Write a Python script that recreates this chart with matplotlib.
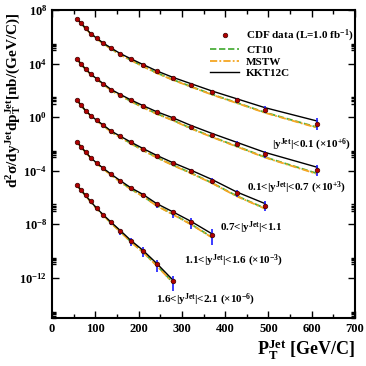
import numpy as np
import matplotlib
matplotlib.use("Agg")
import matplotlib.pyplot as plt
from matplotlib.ticker import FixedLocator, MultipleLocator, NullFormatter

plt.rcParams['font.family'] = ['Liberation Serif', 'DejaVu Serif']
plt.rcParams['font.weight'] = 'bold'
plt.rcParams['mathtext.fontset'] = 'custom'
plt.rcParams['mathtext.rm'] = 'Liberation Serif:bold'
plt.rcParams['mathtext.it'] = 'Liberation Serif:bold'
plt.rcParams['mathtext.bf'] = 'Liberation Serif:bold'
plt.rcParams['mathtext.default'] = 'rm'

# bin centres (GeV/c)
pt = [58, 67, 77.5, 89.5, 103, 118.5, 136.5, 157.5, 182, 209.5, 241.5,
      278.5, 321, 370, 426.5, 492, 613]

# log10 of scaled cross sections
logy_y1 = [7.33, 7.01, 6.64, 6.24, 5.90, 5.52, 5.15, 4.73, 4.33, 3.90, 3.41,
           2.92, 2.42, 1.85, 1.26, 0.56, -0.50]
logy_y2 = [4.34, 3.96, 3.59, 3.22, 2.87, 2.49, 2.05, 1.68, 1.26, 0.83, 0.36,
           -0.10, -0.70, -1.32, -1.99, -2.78, -3.95]
logy_y3 = [1.26, 0.89, 0.49, 0.12, -0.23, -0.60, -1.05, -1.44, -1.89, -2.37,
           -2.90, -3.45, -4.04, -4.76, -5.70, -6.60]
logy_y4 = [-1.87, -2.21, -2.61, -3.03, -3.42, -3.83, -4.27, -4.76, -5.30,
           -5.80, -6.50, -7.12, -7.86, -8.82]
logy_y5 = [-5.10, -5.45, -5.85, -6.30, -6.80, -7.30, -7.86, -8.48, -9.23,
           -9.97, -10.96, -12.20]

# error bars in decades (down / up)
err_lo = [
    [0.02, 0.02, 0.02, 0.02, 0.02, 0.02, 0.03, 0.03, 0.04, 0.05, 0.06, 0.08, 0.10, 0.13, 0.17, 0.25, 0.45],
    [0.02, 0.02, 0.02, 0.02, 0.02, 0.03, 0.03, 0.04, 0.05, 0.06, 0.08, 0.10, 0.12, 0.15, 0.20, 0.30, 0.45],
    [0.03, 0.03, 0.03, 0.03, 0.04, 0.04, 0.05, 0.06, 0.07, 0.08, 0.10, 0.12, 0.15, 0.20, 0.28, 0.40],
    [0.03, 0.03, 0.03, 0.04, 0.05, 0.06, 0.08, 0.10, 0.15, 0.20, 0.30, 0.40, 0.50, 0.70],
    [0.04, 0.05, 0.06, 0.08, 0.10, 0.15, 0.20, 0.30, 0.40, 0.50, 0.60, 0.80],
]
err_hi = [
    [0.02, 0.02, 0.02, 0.02, 0.02, 0.02, 0.03, 0.03, 0.04, 0.05, 0.06, 0.08, 0.10, 0.13, 0.17, 0.25, 0.40],
    [0.02, 0.02, 0.02, 0.02, 0.02, 0.03, 0.03, 0.04, 0.05, 0.06, 0.08, 0.10, 0.12, 0.15, 0.20, 0.25, 0.40],
    [0.03, 0.03, 0.03, 0.03, 0.04, 0.04, 0.05, 0.06, 0.07, 0.08, 0.10, 0.12, 0.15, 0.18, 0.25, 0.35],
    [0.03, 0.03, 0.03, 0.04, 0.05, 0.06, 0.07, 0.08, 0.10, 0.12, 0.15, 0.20, 0.30, 0.45],
    [0.03, 0.04, 0.05, 0.06, 0.08, 0.10, 0.12, 0.15, 0.20, 0.25, 0.30, 0.30],
]

# theory / data ratios per bin
ratio_kkt12c = [1.00, 1.00, 1.00, 1.00, 1.00, 1.02, 1.03, 1.05, 1.07, 1.10, 1.12,
                1.15, 1.20, 1.25, 1.30, 1.40, 1.60]
ratio_ct10 = [1.00, 1.00, 0.98, 0.97, 0.95, 0.93, 0.90, 0.88, 0.85, 0.82, 0.80,
              0.77, 0.74, 0.70, 0.66, 0.62, 0.55]
ratio_mstw = [1.00, 0.98, 0.96, 0.94, 0.92, 0.90, 0.87, 0.84, 0.82, 0.79, 0.76,
              0.73, 0.70, 0.66, 0.62, 0.58, 0.50]

series_labels = [
    r"$|y^{Jet}|$<0.1 ($\times$10$^{+6}$)",
    r"0.1<$|y^{Jet}|$<0.7 ($\times$10$^{+3}$)",
    r"0.7<$|y^{Jet}|$<1.1",
    r"1.1<$|y^{Jet}|$<1.6 ($\times$10$^{-3}$)",
    r"1.6<$|y^{Jet}|$<2.1 ($\times$10$^{-6}$)",
]
label_pos = [(351, 145), (346, 188), (283, 228), (283, 261), (255, 300)]

all_logy = [logy_y1, logy_y2, logy_y3, logy_y4, logy_y5]

fig = plt.figure(figsize=(3.66, 3.66), dpi=100)
ax = fig.add_axes([52/366, 1-318/366, 303/366, 308/366])

for i, ly in enumerate(all_logy):
    n = len(ly)
    x = np.array(pt[:n])
    y = 10.0**np.array(ly)
    lo = y - y*10.0**(-np.array(err_lo[i]))
    hi = y*10.0**np.array(err_hi[i]) - y
    ax.plot(x, y*np.array(ratio_ct10[:n]), color='#4caf3c', ls=(0, (3.5, 1.5)), lw=1.3, zorder=2,
            label='CT10' if i == 0 else None)
    ax.plot(x, y*np.array(ratio_mstw[:n]), color='#f5a623', ls=(0, (4, 1.2, 1, 1.2)), lw=1.3, zorder=2,
            label='MSTW' if i == 0 else None)
    ax.plot(x, y*np.array(ratio_kkt12c[:n]), color='black', ls='-', lw=1.0, zorder=3,
            label='KKT12C' if i == 0 else None)
    ax.errorbar(x, y, yerr=[lo, hi], fmt='none', ecolor='#1a1aff', elinewidth=1.2, capsize=0, zorder=4)
    ax.plot(x, y, 'o', ms=3.3, mfc='#b00000', mec='#3a0000', mew=0.5, zorder=5,
            label=r'CDF data (L=1.0 fb$^{-1}$)' if i == 0 else None)

ax.set_yscale('log')
ax.set_xlim(0, 700)
ax.set_ylim(1e-15, 1e8)

ax.xaxis.set_major_locator(MultipleLocator(100))
ax.xaxis.set_minor_locator(MultipleLocator(50))
ax.yaxis.set_major_locator(FixedLocator([1e-12, 1e-8, 1e-4, 1e0, 1e4, 1e8]))
minors = []
for k in [-15, -11, -7, -3, 1, 5]:
    for s in [1, 1.5, 2, 2.5, 3]:
        minors.append(s*10.0**k)
ax.yaxis.set_minor_locator(FixedLocator(minors))
ax.yaxis.set_minor_formatter(NullFormatter())
ax.set_yticklabels([r'10$^{-12}$', r'10$^{-8}$', r'10$^{-4}$', r'10$^{0}$', r'10$^{4}$', r'10$^{8}$'])

ax.tick_params(which='both', direction='in', top=True, right=True, labelsize=9, width=1.0)
ax.tick_params(which='major', length=5)
ax.tick_params(which='minor', length=3)
for sp in ax.spines.values():
    sp.set_linewidth(1.5)
for lab in ax.get_xticklabels() + ax.get_yticklabels():
    lab.set_fontweight('bold')

fig.text(13/366, 1-100/366, r'd$^2\sigma$/dy$^{Jet}$dp$_T^{Jet}$[nb/(GeV/C)]', fontsize=11,
         rotation=90, ha='center', va='center')
fig.text(355/366, 1-350/366, r'P$_T^{Jet}$ [GeV/C]', fontsize=13, ha='right', va='center')

for (txt, (px, py)) in zip(series_labels, label_pos):
    fig.text(px/366, 1-py/366, txt, fontsize=8, ha='right', va='center')

handles, labels = ax.get_legend_handles_labels()
order = [labels.index(l) for l in [r'CDF data (L=1.0 fb$^{-1}$)', 'CT10', 'MSTW', 'KKT12C']]
ax.legend([handles[j] for j in order], [labels[j] for j in order], loc='upper left',
          bbox_to_anchor=(0.49, 0.975), frameon=False, fontsize=8.0, handlelength=2.6,
          labelspacing=0.15, handletextpad=0.6)

fig.savefig('out.png', dpi=100)
